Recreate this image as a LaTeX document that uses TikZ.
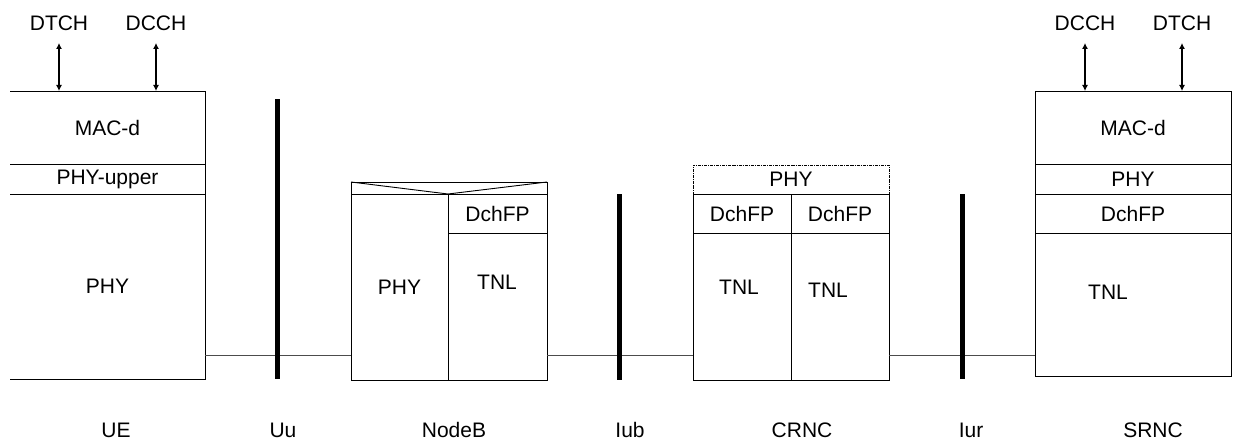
\documentclass[tikz,border=0pt]{standalone}
\usepackage{fontspec}
\setmainfont{Liberation Sans}
\usetikzlibrary{arrows.meta, positioning}

\begin{document}
\begin{tikzpicture}[x=1pt, y=-1pt, >={Latex[length=6pt,width=6pt]}, font=\fontsize{21}{25}\selectfont]
\tikzset{
  cell/.style={inner sep=0pt, outer sep=0pt},
  layer/.style={cell, draw, line width=0.9pt},
  rule/.style={line width=0.9pt},
  bar/.style={cell, fill=black, minimum width=5pt},
  link/.style={draw=black!70, line width=0.9pt},
  chan/.style={<->, line width=1.1pt, shorten <=9pt}
}
\useasboundingbox (0,0) rectangle (1233,446);

% UE stack (open on the left)
\node[cell, minimum width=195pt, minimum height=73pt, anchor=north west] (uemac) at (10,91) {MAC-d};
\node[cell, minimum width=195pt, minimum height=30pt, below=0pt of uemac] (ueup) {PHY-upper};
\node[cell, minimum width=195pt, minimum height=185pt, below=0pt of ueup] (uephy) {PHY};
\draw[rule] (uemac.north west) -- (uemac.north east) -- (uephy.south east) -- (uephy.south west);
\draw[rule] (ueup.north west) -- (ueup.north east) (ueup.south west) -- (ueup.south east);

\node (uedtch) at (59,23) {DTCH};
\node (uedcch) at (156,23) {DCCH};
\draw[chan] (uedtch) -- (uedtch |- uemac.north);
\draw[chan] (uedcch) -- (uedcch |- uemac.north);

% NodeB
\node[layer, minimum width=196pt, minimum height=12pt, anchor=north west] (nbtop) at (351,182) {};
\node[layer, minimum width=97pt, minimum height=186pt, anchor=north west] (nbphy) at (nbtop.south west) {PHY};
\node[layer, minimum width=99pt, minimum height=39pt, anchor=north west] (nbfp) at (nbphy.north east) {DchFP};
\node[layer, minimum width=99pt, minimum height=147pt, below=0pt of nbfp] (nbtnl) {};
\node (nbtnltxt) at (497,282) {TNL};
\draw[rule] (nbtop.north west) -- (nbphy.north east) -- (nbtop.north east);

% CRNC
\node[layer, densely dashdotted, minimum width=196pt, minimum height=29pt, anchor=north west] (crphy) at (693,165) {PHY};
\node[layer, minimum width=98pt, minimum height=39pt, anchor=north west] (crfpa) at (crphy.south west) {DchFP};
\node[layer, minimum width=98pt, minimum height=39pt, anchor=north west] (crfpb) at (crfpa.north east) {DchFP};
\node[layer, minimum width=98pt, minimum height=147pt, below=0pt of crfpa] (crtnla) {};
\node[layer, minimum width=98pt, minimum height=147pt, below=0pt of crfpb] (crtnlb) {};
\node (crtnlatxt) at (739,287) {TNL};
\node (crtnlbtxt) at (828,290) {TNL};

% SRNC
\node[layer, minimum width=196pt, minimum height=73pt, anchor=north west] (srmac) at (1035,91) {MAC-d};
\node[layer, minimum width=196pt, minimum height=30pt, below=0pt of srmac] (srphy) {PHY};
\node[layer, minimum width=196pt, minimum height=39pt, below=0pt of srphy] (srfp) {DchFP};
\node[layer, minimum width=196pt, minimum height=143pt, below=0pt of srfp] (srtnl) {};
\node (srtnltxt) at (1108,292) {TNL};

\node (srdcch) at (1085,23) {DCCH};
\node (srdtch) at (1182,23) {DTCH};
\draw[chan] (srdcch) -- (srdcch |- srmac.north);
\draw[chan] (srdtch) -- (srdtch |- srmac.north);

% transport links
\coordinate (link) at (0,355);
\draw[link] (uephy.east |- link) -- (nbphy.west |- link);
\draw[link] (nbtnl.east |- link) -- (crtnla.west |- link);
\draw[link] (crtnlb.east |- link) -- (srtnl.west |- link);

% interfaces
\node[bar, minimum height=280pt, anchor=north] (uubar) at (277.5,99) {};
\node[bar, minimum height=186pt, anchor=north] (iubbar) at (619.5,194) {};
\node[bar, minimum height=185pt, anchor=north] (iurbar) at (962,194) {};

% names
\node (uelbl) at (116,430) {UE};
\node (uulbl) at (283,430) {Uu};
\node (nblbl) at (454,430) {NodeB};
\node (iublbl) at (630,430) {Iub};
\node (crlbl) at (802,430) {CRNC};
\node (iurlbl) at (971,430) {Iur};
\node (srlbl) at (1153,430) {SRNC};
\end{tikzpicture}
\end{document}
